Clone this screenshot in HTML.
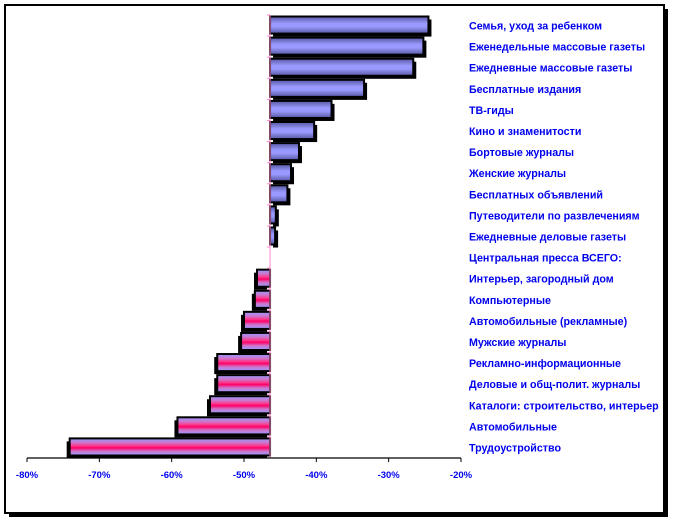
<!DOCTYPE html>
<html><head><meta charset="utf-8"><style>
html,body{margin:0;padding:0;background:#fff;}
svg{display:block;font-family:"Liberation Sans","DejaVu Sans",sans-serif;}
</style></head><body>
<svg id="chart" width="673" height="522" viewBox="0 0 673 522">
<defs>
<linearGradient id="gPos" x1="0" y1="0" x2="0" y2="1">
<stop offset="0" stop-color="#5555aa"/><stop offset="0.2" stop-color="#7777cc"/><stop offset="0.4" stop-color="#9999ff"/><stop offset="0.6" stop-color="#9999ff"/><stop offset="0.8" stop-color="#7777cc"/><stop offset="1" stop-color="#5555aa"/>
</linearGradient>
<linearGradient id="gNeg" x1="0" y1="0" x2="0" y2="1">
<stop offset="0" stop-color="#9999ff"/><stop offset="0.25" stop-color="#cc77cc"/><stop offset="0.45" stop-color="#ff3388"/><stop offset="0.55" stop-color="#ff0066"/><stop offset="0.75" stop-color="#cc77cc"/><stop offset="1" stop-color="#9999ff"/>
</linearGradient>
</defs>
<rect x="9" y="9" width="659" height="508" fill="#000"/>
<rect x="5" y="5" width="659" height="508" fill="#fff" stroke="#000" stroke-width="2"/>
<g id="bars"></g>
<g id="axis"></g>
</svg>
<script>
const categories=["Семья, уход за ребенком","Еженедельные массовые газеты","Ежедневные массовые газеты","Бесплатные издания","ТВ-гиды","Кино и знаменитости","Бортовые журналы","Женские журналы","Бесплатных объявлений","Путеводители по развлечениям","Ежедневные деловые газеты","Центральная пресса ВСЕГО:","Интерьер, загородный дом","Компьютерные","Автомобильные (рекламные)","Мужские журналы","Рекламно-информационные","Деловые и общ-полит. журналы","Каталоги: строительство, интерьер","Автомобильные","Трудоустройство"];
const values=[-24.5,-25.2,-26.6,-33.4,-37.9,-40.3,-42.4,-43.5,-44.0,-45.6,-45.7,-46.4,-48.2,-48.5,-50.0,-50.4,-53.7,-53.7,-54.7,-59.2,-74.1];
const ticks=[-80,-70,-60,-50,-40,-30,-20];
const baseValue=-46.4;
const NS="http://www.w3.org/2000/svg";
const x0=27,x1=461,vmin=-80,vmax=-20;
function xs(v){return x0+(v-vmin)/(vmax-vmin)*(x1-x0);}
const plotTop=15,plotBottom=458,rowH=(plotBottom-plotTop)/categories.length;
function ys(i){return plotTop+i*rowH;}
function mk(t,a,p){const e=document.createElementNS(NS,t);for(const k in a)e.setAttribute(k,a[k]);p.appendChild(e);return e;}
const barsG=document.getElementById('bars'),axisG=document.getElementById('axis');
const bx=xs(baseValue);
categories.forEach((c,i)=>{
  const v=values[i];const y=ys(i)+1.5;const h=rowH-4;
  const xe=xs(v);
  if(Math.abs(xe-bx)>0.5){
    const pos=xe>bx;
    const l=Math.min(xe,bx),w=Math.abs(xe-bx);
    const sh=mk('rect',{x:pos?l+3:l-3,y:y+3,width:w,height:h,fill:'#000'},barsG);
    
    
    const r=mk('rect',{x:l,y:y,width:w,height:h,fill:pos?'url(#gPos)':'url(#gNeg)',stroke:'#000','stroke-width':2},barsG);
    
    
  }
  const t=mk('text',{x:469,y:ys(i)+rowH/2+4,fill:'#0000ee','font-size':'10.7','font-weight':'bold'},barsG);
  t.textContent=c;
  
  
});
const bl=mk('line',{x1:bx,y1:plotTop,x2:bx,y2:plotBottom,stroke:'#ff88cc','stroke-width':1},axisG);


for(let i=0;i<=categories.length;i++){
  const tk=mk('line',{x1:bx-3,y1:ys(i),x2:bx,y2:ys(i),stroke:'#ff88cc'},axisG);
  
  
}
const xl=mk('line',{x1:x0,y1:plotBottom,x2:x1,y2:plotBottom,stroke:'#000','stroke-width':1.2},axisG);


ticks.forEach(v=>{
  const tk=mk('line',{x1:xs(v),y1:plotBottom,x2:xs(v),y2:plotBottom+4,stroke:'#000'},axisG);
  
  
  const t=mk('text',{x:xs(v),y:plotBottom+20,fill:'#0000ee','font-size':'9.5','font-weight':'bold','text-anchor':'middle'},axisG);
  t.textContent=v+'%';
  
  
});
</script>
</body></html>
